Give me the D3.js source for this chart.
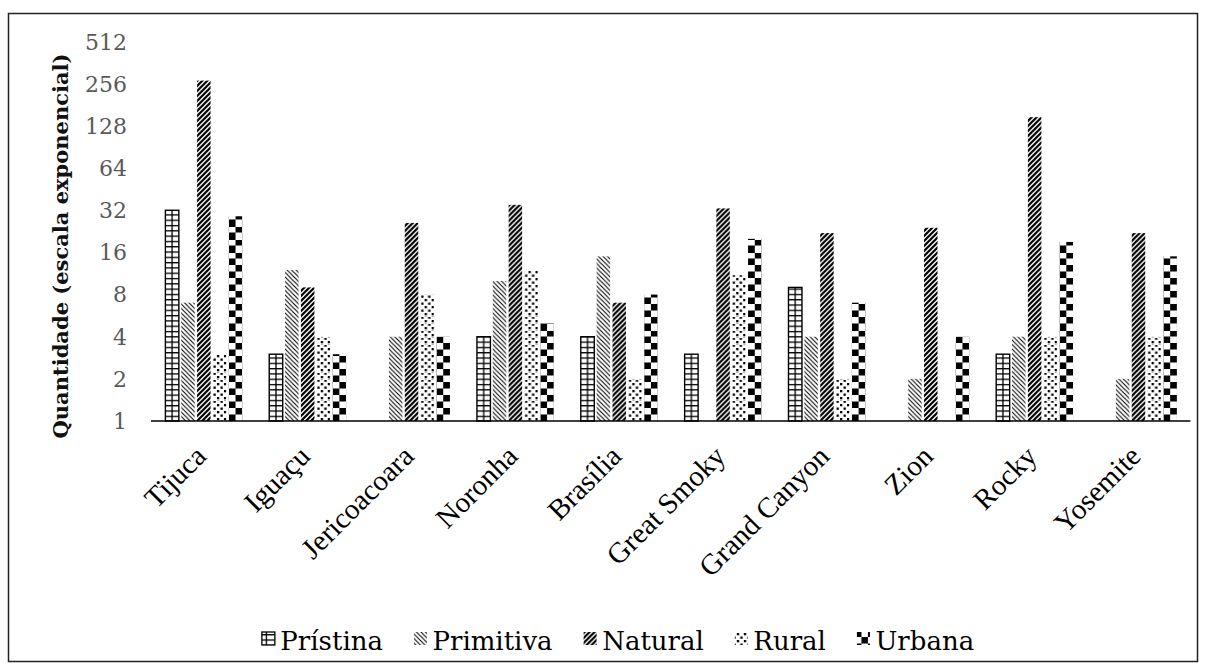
<!DOCTYPE html>
<html><head><meta charset="utf-8">
<script src="https://cdn.jsdelivr.net/npm/d3@7"></script>
<style>html,body{margin:0;padding:0;background:#fff;}</style>
</head><body>
<svg id="chart" width="1206" height="666"></svg>
<script>
const categories = ["Tijuca","Iguaçu","Jericoacoara","Noronha","Brasília","Great Smoky","Grand Canyon","Zion","Rocky","Yosemite"];
const seriesNames = ["Prístina","Primitiva","Natural","Rural","Urbana"];
const pristina  = [32, 3, 0, 4, 4, 3, 9, 0, 3, 0];
const primitiva = [7, 12, 4, 10, 15, 0, 4, 2, 4, 2];
const natural   = [270, 9, 26, 35, 7, 33, 22, 24, 148, 22];
const rural     = [3, 4, 8, 12, 2, 11, 2, 0, 4, 4];
const urbana    = [29, 3, 4, 5, 8, 20, 7, 4, 19, 15];
const yTicks = [1, 2, 4, 8, 16, 32, 64, 128, 256, 512];
const yTitle = "Quantidade (escala exponencial)";

const seriesValues = [pristina, primitiva, natural, rural, urbana];
const svg = d3.select("#chart");
svg.append("rect").attr("width",1206).attr("height",666).attr("fill","#fff");
svg.append("rect").attr("x",8.5).attr("y",13.5).attr("width",1189).attr("height",648)
  .attr("fill","none").attr("stroke","#222").attr("stroke-width",1.5);

const baseY = 421;
const x0 = d3.scaleBand().domain(categories).range([151.9, 1190.4]).paddingInner(0).paddingOuter(0);
const x1 = d3.scaleBand().domain(seriesNames).range([0, x0.bandwidth()]).paddingInner(0.15).paddingOuter(0.851);
const y = d3.scaleLog().base(2).domain([1, 512]).range([baseY, 41.7]);

const defs = svg.append("defs");
function makePattern(id, type, px, py, bw) {
  const p = defs.append("pattern").attr("id", id).attr("patternUnits","userSpaceOnUse")
    .attr("x", px).attr("y", py);
  if (type === 0) {
    const h = 5.3;
    p.attr("width", bw).attr("height", h);
    p.append("rect").attr("width", bw).attr("height", h).attr("fill","#fff");
    p.append("rect").attr("x",0).attr("y",0).attr("width",bw).attr("height",1.3).attr("fill","#000");
    p.append("rect").attr("x",bw/2-0.65).attr("y",0).attr("width",1.3).attr("height",h).attr("fill","#000");
  } else if (type === 1) {
    const s = 4.5;
    p.attr("width", s).attr("height", s);
    p.append("rect").attr("width",s).attr("height",s).attr("fill","#fff");
    p.append("path").attr("d",`M0,0L${s},${s}M${-s/2},${s/2}L${s/2},${1.5*s}M${s/2},${-s/2}L${1.5*s},${s/2}`)
      .attr("stroke","#000").attr("stroke-width",1.1);
  } else if (type === 2) {
    const s = 5;
    p.attr("width", s).attr("height", s);
    p.append("rect").attr("width",s).attr("height",s).attr("fill","#fff");
    p.append("path").attr("d",`M0,${s}L${s},0M${-s/2},${s/2}L${s/2},${-s/2}M${s/2},${1.5*s}L${1.5*s},${s/2}`)
      .attr("stroke","#000").attr("stroke-width",2.2);
  } else if (type === 3) {
    p.attr("width", 7).attr("height", 7);
    p.append("rect").attr("width",7).attr("height",7).attr("fill","#fff");
    p.append("rect").attr("x",0.5).attr("y",0.5).attr("width",2.3).attr("height",2.3).attr("fill","#000");
    p.append("rect").attr("x",4).attr("y",4).attr("width",2.3).attr("height",2.3).attr("fill","#000");
  } else {
    const h = 13;
    p.attr("width", bw).attr("height", h);
    p.append("rect").attr("width",bw).attr("height",h).attr("fill","#fff");
    p.append("rect").attr("x",bw/2).attr("y",0).attr("width",bw/2).attr("height",h/2).attr("fill","#000");
    p.append("rect").attr("x",0).attr("y",h/2).attr("width",bw/2).attr("height",h/2).attr("fill","#000");
  }
  return "url(#" + id + ")";
}

const bw = x1.bandwidth();
const bars = [];
seriesValues.forEach((vals, s) => {
  vals.forEach((v, i) => {
    if (v > 1) bars.push({s, i, v, cat: categories[i]});
  });
});
const g = svg.append("g");
g.selectAll("rect.bar").data(bars).join("rect").attr("class","bar")
  .attr("x", d => x0(d.cat) + x1(seriesNames[d.s]))
  .attr("y", d => y(d.v))
  .attr("width", bw)
  .attr("height", d => baseY - y(d.v))
  .attr("fill", d => makePattern("p"+d.s+"_"+d.i, d.s, x0(d.cat) + x1(seriesNames[d.s]), baseY, bw))
  .attr("stroke", d => d.s === 0 ? "#000" : "none")
  .attr("stroke-width", 1.4);

// x axis line
svg.append("line").attr("x1",151).attr("x2",1190.4).attr("y1",baseY).attr("y2",baseY)
  .attr("stroke","#000").attr("stroke-width",1.6);

// y tick labels
svg.append("g").selectAll("text").data(yTicks).join("text")
  .attr("x",127).attr("y",d => y(d)).attr("dy","0.36em")
  .attr("text-anchor","end").attr("font-family","DejaVu Serif").attr("font-size",22)
  .attr("fill","#595959").text(d => d);

// y title
svg.append("text").attr("transform","translate(68,246) rotate(-90)")
  .attr("text-anchor","middle").attr("font-family","DejaVu Serif").attr("font-weight","bold")
  .attr("font-size",21).attr("fill","#111").text(yTitle);

// x labels
svg.append("g").selectAll("text").data(categories).join("text")
  .attr("transform", d => `translate(${x0(d) + x0.bandwidth()/2 + 4},${458}) rotate(-45)`)
  .attr("text-anchor","end").attr("font-family","Liberation Serif").attr("font-size",29)
  .attr("fill","#000").text(d => d);

// legend
const leg = svg.append("g");
let cx = 0;
seriesNames.forEach((n, s) => {
  const it = leg.append("g");
  const iconX = cx;
  const fill = makePattern("lp"+s, s, iconX, 0, 13);
  it.append("rect").attr("x", iconX + 2).attr("y", -18).attr("width",13).attr("height",13)
    .attr("fill", fill).attr("stroke", s === 0 ? "#000" : "none").attr("stroke-width",1.3);
  const t = it.append("text").attr("x", iconX + 20.5).attr("y", 0)
    .attr("font-family","DejaVu Serif").attr("font-size",26).attr("fill","#000").text(n);
  cx = iconX + 20.5 + t.node().getComputedTextLength() + 29;
});
const total = cx - 29;
leg.attr("transform", `translate(${617 - total/2},650)`);
</script>
</body></html>
